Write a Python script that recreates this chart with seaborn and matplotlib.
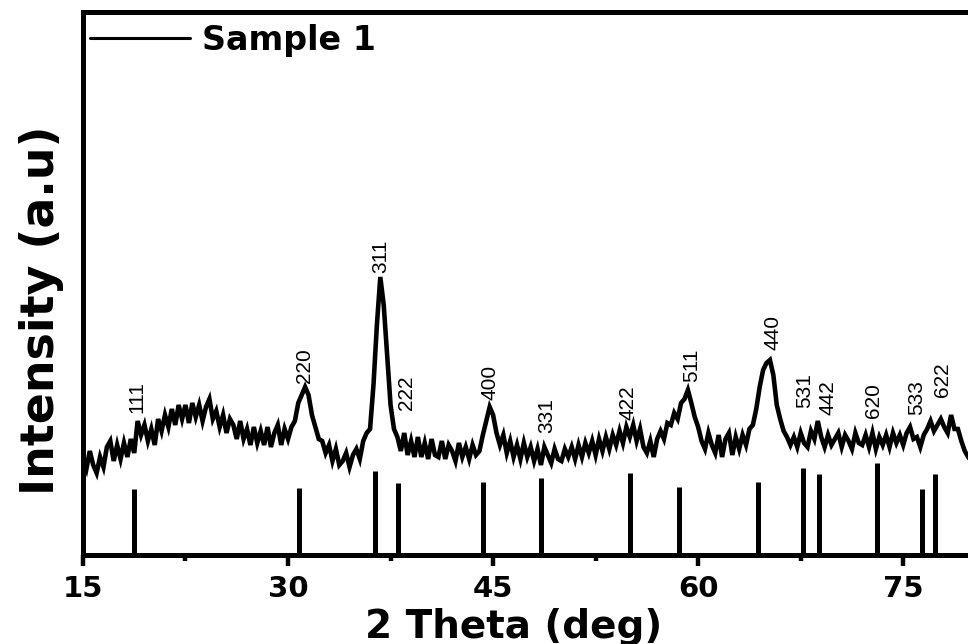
import numpy as np
import pandas as pd
import matplotlib
matplotlib.use("Agg")
import matplotlib.pyplot as plt
import seaborn as sns

# ---------------- data ----------------
# measured XRD pattern, 2-theta from 15 to 80 deg in 0.25 deg steps
intensity = [
    95, 86, 104, 90,      # 15
    82, 98, 88, 108,      # 16
    114, 94, 110, 96,     # 17
    112, 98, 116, 102,    # 18
    134, 120, 130, 114,   # 19
    126, 110, 136, 124,   # 20
    140, 128, 146, 130,   # 21
    150, 136, 150, 132,   # 22
    152, 138, 150, 134,   # 23
    148, 156, 136, 144,   # 24
    128, 140, 122, 136,   # 25
    130, 116, 134, 116,   # 26
    126, 110, 128, 112,   # 27
    124, 110, 128, 108,   # 28
    122, 130, 110, 126,   # 29
    116, 128, 134, 152,   # 30
    160, 168, 160, 140,   # 31
    128, 116, 114, 102,   # 32
    110, 94, 106, 90,     # 33
    94, 102, 88, 100,     # 34
    106, 96, 114, 122,    # 35
    126, 170, 230, 278,   # 36
    250, 200, 150, 126,   # 37
    118, 104, 122, 100,   # 38
    114, 98, 118, 98,     # 39
    112, 96, 116, 100,    # 40
    98, 114, 96, 110,     # 41
    104, 94, 112, 98,     # 42
    108, 96, 110, 100,    # 43
    104, 120, 134, 148,   # 44
    140, 122, 110, 120,   # 45
    102, 114, 98, 110,    # 46
    96, 112, 98, 108,     # 47
    94, 106, 90, 108,     # 48
    100, 92, 106, 96,     # 49
    94, 106, 98, 108,     # 50
    96, 110, 98, 112,     # 51
    102, 114, 100, 116,   # 52
    104, 118, 106, 120,   # 53
    110, 124, 112, 128,   # 54
    118, 130, 114, 126,   # 55
    108, 102, 114, 98,    # 56
    116, 124, 116, 132,   # 57
    130, 142, 136, 152,   # 58
    156, 165, 152, 138,   # 59
    128, 114, 106, 122,   # 60
    110, 102, 120, 98,    # 61
    116, 122, 100, 118,   # 62
    106, 120, 110, 126,   # 63
    130, 146, 168, 185,   # 64
    192, 195, 180, 150,   # 65
    136, 124, 118, 110,   # 66
    118, 108, 122, 112,   # 67
    108, 124, 116, 134,   # 68
    118, 108, 120, 110,   # 69
    116, 122, 108, 120,   # 70
    114, 106, 122, 112,   # 71
    110, 120, 108, 122,   # 72
    106, 118, 110, 120,   # 73
    108, 122, 112, 120,   # 74
    110, 122, 128, 116,   # 75
    118, 108, 120, 126,   # 76
    134, 124, 130, 136,   # 77
    128, 122, 140, 126,   # 78
    126, 114, 104, 98,    # 79
    93,                   # 80
]
two_theta = np.arange(len(intensity)) * 0.25 + 15.0

# reference (standard) stick pattern
stick_pos = [18.73, 30.8, 36.38, 38.07, 44.24, 48.48, 55.01, 58.6,
             64.4, 67.7, 68.84, 73.06, 76.35, 77.35]
stick_height = [66, 67, 84, 72, 73, 77, 82, 68, 73, 87, 81, 92, 66, 81]

# hkl annotations
hkl = ["111", "220", "311", "222", "400", "331", "422", "511",
       "440", "531", "442", "620", "533", "622"]
hkl_x = [18.95, 31.24, 36.8, 38.7, 44.77, 48.94, 54.87, 59.55,
         65.47, 67.82, 69.5, 72.8, 76.0, 77.9]
hkl_y = [142, 172, 282, 145, 155, 122, 135, 173, 205, 147, 140, 137, 140, 158]

xticks = [15, 30, 45, 60, 75]
xtick_labels = ["15", "30", "45", "60", "75"]
minor_ticks = [22.5, 37.5, 52.5, 67.5]

# ---------------- plotting ----------------
sns.set_style("white")
plt.rcParams["font.family"] = ["DejaVu Sans"]
plt.rcParams["text.color"] = "black"
plt.rcParams["axes.labelcolor"] = "black"
plt.rcParams["xtick.color"] = "black"
plt.rcParams["ytick.color"] = "black"

df = pd.DataFrame({"two_theta": two_theta, "intensity": intensity})

fig = plt.figure(figsize=(9.68, 6.44), dpi=100)
ax = fig.add_axes([0.0857, 0.1382, 0.918, 0.8432])

sns.lineplot(data=df, x="two_theta", y="intensity", ax=ax, color="black",
             lw=3.3, label="Sample 1", sort=False,
             solid_joinstyle="miter")
ax.vlines(stick_pos, 0, stick_height, color="black", lw=3.6)

for t, xx, yy in zip(hkl, hkl_x, hkl_y):
    ax.text(xx, yy, t, rotation=90, ha="center", va="bottom",
            fontsize=15, family="Liberation Sans", color="black")

ax.set_xlim(15, 80)
ax.set_ylim(0, 543)
ax.set_yticks([])
ax.set_xticks(xticks)
ax.set_xticklabels(xtick_labels, fontsize=21, fontweight="bold", color="black")
ax.set_xticks(minor_ticks, minor=True)
ax.tick_params(axis="x", which="major", direction="out", length=8, width=3.2,
               pad=6.5, bottom=True, top=False, colors="black")
ax.tick_params(axis="x", which="minor", direction="out", length=4.3, width=3.2,
               bottom=True, top=False, colors="black")
ax.tick_params(axis="y", left=False, right=False)

for s in ax.spines.values():
    s.set_linewidth(3.6)
    s.set_color("black")

ax.set_xlabel("2 Theta (deg)", fontsize=28, fontweight="bold", color="black")
ax.xaxis.set_label_coords(0.485, -0.097)
ax.set_ylabel("Intensity (a.u)", fontsize=33, fontweight="bold", va="center",
              color="black")
ax.yaxis.set_label_coords(-0.047, 0.451)

leg = ax.legend(loc="upper left", bbox_to_anchor=(0.0079, 0.978),
                frameon=False, handlelength=3.0,
                handletextpad=0.36, borderpad=0, borderaxespad=0,
                prop={"weight": "bold", "size": 24})
for ln in leg.get_lines():
    ln.set_linewidth(2.2)
for tx in leg.get_texts():
    tx.set_color("black")

fig.savefig("out.png", dpi=100)
